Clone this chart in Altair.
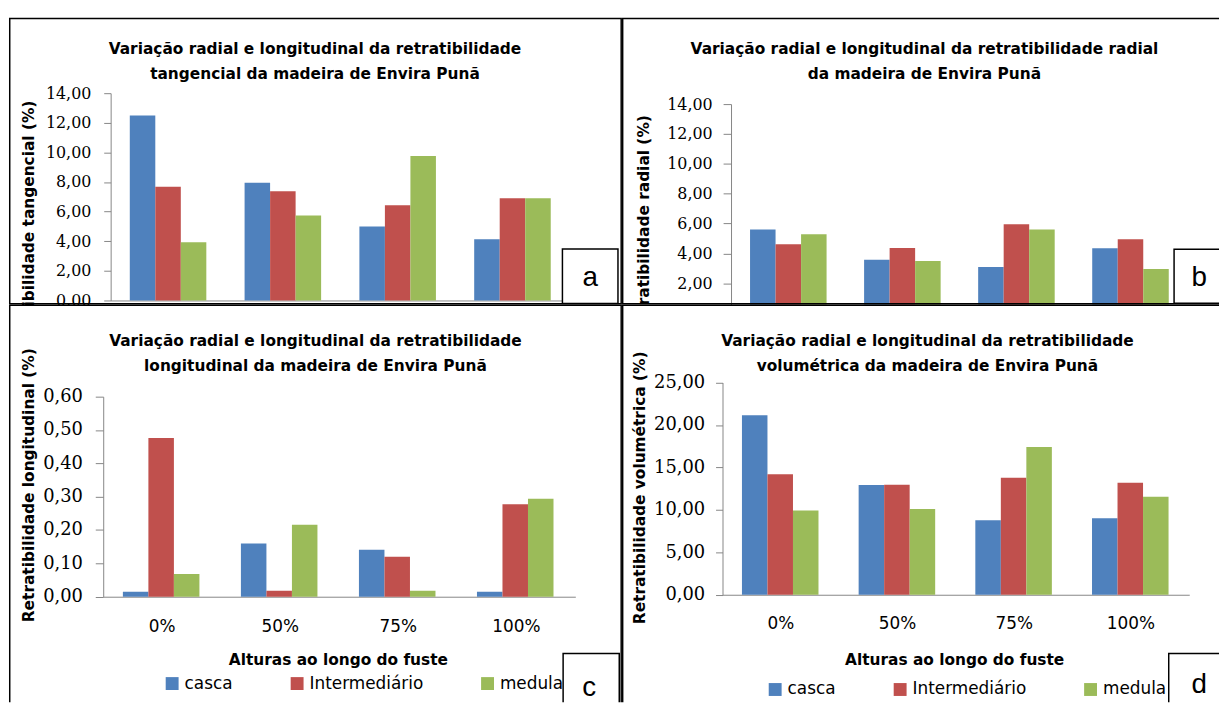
import altair as alt
import pandas as pd

# ---------------- data ----------------
heights = ["0%", "50%", "75%", "100%"]
series = ["casca", "Intermediário", "medula"]
colors = ["#4F81BD", "#C0504D", "#9BBB59"]

tang_casca = [12.50, 7.95, 5.00, 4.13]
tang_inter = [7.68, 7.37, 6.43, 6.90]
tang_medula = [3.93, 5.74, 9.76, 6.90]

rad_casca = [5.61, 3.57, 3.09, 4.35]
rad_inter = [4.61, 4.37, 5.96, 4.95]
rad_medula = [5.28, 3.49, 5.61, 2.95]

long_casca = [0.015, 0.160, 0.141, 0.015]
long_inter = [0.476, 0.018, 0.120, 0.277]
long_medula = [0.068, 0.216, 0.018, 0.294]

vol_casca = [21.14, 12.93, 8.76, 9.00]
vol_inter = [14.18, 12.96, 13.79, 13.20]
vol_medula = [9.93, 10.09, 17.41, 11.53]

title_a = ["Variação radial e longitudinal da retratibilidade",
           "tangencial da madeira de Envira Punã"]
title_b = ["Variação radial e longitudinal da retratibilidade radial",
           "da madeira de Envira Punã"]
title_c = ["Variação radial e longitudinal da retratibilidade",
           "longitudinal da madeira de Envira Punã"]
title_d = ["Variação radial  e longitudinal da retratibilidade",
           "volumétrica da madeira de Envira Punã"]

ytitle_a = "Retratibilidade tangencial (%)"
ytitle_b = "Retratibilidade radial (%)"
ytitle_c = "Retratibilidade longitudinal (%)"
ytitle_d = "Retratibilidade volumétrica (%)"
xtitle = "Alturas ao longo do fuste"

ticks_a = [0, 2, 4, 6, 8, 10, 12, 14]
ticks_c = [0, 0.1, 0.2, 0.3, 0.4, 0.5, 0.6]
ticks_d = [0, 5, 10, 15, 20, 25]


def long_df(casca, inter, medula):
    rows = []
    for s, vals in zip(series, [casca, inter, medula]):
        for h, v in zip(heights, vals):
            rows.append({"altura": h, "serie": s, "valor": v})
    return pd.DataFrame(rows)


GREY = "#868686"
TFONT = "DejaVu Sans"
TSIZE = 15.5
one = pd.DataFrame({"k": [0]})
LABEL_EXPR = "replace(format(datum.value, '.2f'), '.', ',')"


def panel(df, p):
    w, h = p["w"], p["h"]
    if p["xlabels"]:
        xaxis = alt.Axis(title=xtitle, labelAngle=0, ticks=False, tickSize=0,
                         domainColor=GREY, grid=False,
                         labelFont="DejaVu Sans", labelFontSize=17, labelColor="black",
                         labelPadding=p["xlabpad"], labelBaseline="middle",
                         titleFont=TFONT, titleFontSize=TSIZE, titleFontWeight="bold",
                         titleColor="black", titleX=p["xtx"], titleY=p["xty"],
                         titleBaseline="middle", titleAlign="center", titleAngle=0,
                         offset=p["xoff"])
    else:
        xaxis = alt.Axis(title=None, labels=False, ticks=False, domainColor=GREY,
                         grid=False, offset=p["xoff"])
    yaxis = alt.Axis(values=p["yticks"], labelExpr=LABEL_EXPR, offset=p["yoff"],
                     grid=False, domainColor=GREY, tickColor=GREY, tickSize=p["ytick"],
                     labelPadding=p["ylabpad"], labelFont="DejaVu Serif",
                     labelFontSize=p["ylabfs"], labelColor="black",
                     title=p["ytitle"], titleFont=TFONT, titleFontSize=TSIZE,
                     titleFontWeight="bold", titleColor="black", titleAngle=270,
                     titleAlign="right", titleBaseline="middle",
                     titleX=p["ytx"], titleY=p["yty"])
    if p["legend"]:
        legend = alt.Legend(title=None, orient="none", direction="horizontal",
                            legendX=p["legx"], legendY=p["legy"], symbolType="square",
                            symbolSize=169, symbolStrokeWidth=0, labelFont="DejaVu Sans",
                            labelFontSize=17, labelColor="black", columnPadding=56,
                            labelOffset=4, padding=0)
    else:
        legend = None

    bars = alt.Chart(df).mark_bar(clip=True).encode(
        x=alt.X("altura:N", sort=heights,
                scale=alt.Scale(domain=heights, range=p["xr"],
                                paddingInner=1 / 3, paddingOuter=1 / 6),
                axis=xaxis),
        xOffset=alt.XOffset("serie:N", sort=series,
                            scale=alt.Scale(domain=series, paddingInner=0, paddingOuter=0)),
        y=alt.Y("valor:Q", scale=alt.Scale(domain=p["ydom"], range=p["yr"], nice=False),
                axis=yaxis),
        color=alt.Color("serie:N", sort=series,
                        scale=alt.Scale(domain=series, range=colors), legend=legend),
    )
    title = alt.Chart(one).mark_text(
        align="center", baseline="alphabetic", font=TFONT, fontSize=TSIZE,
        fontWeight="bold", lineHeight=p["lh"], color="black"
    ).encode(x=alt.value(p["tx"]), y=alt.value(p["ty"]), text=alt.value(p["title"]))
    box = alt.Chart(one).mark_rect(fill="white", stroke="black", strokeWidth=1.5,
                                   clip=True).encode(
        x=alt.value(p["box"][0]), x2=alt.value(p["box"][1]),
        y=alt.value(p["box"][2]), y2=alt.value(p["box"][3]))
    letter = alt.Chart(one).mark_text(
        font="Liberation Sans", fontSize=28, align="center", baseline="middle",
        color="black"
    ).encode(x=alt.value(p["lx"]), y=alt.value(p["ly"]), text=alt.value(p["letter"]))
    frame = alt.Chart(one).mark_rect(filled=False, stroke="black", strokeWidth=3,
                                     clip=True).encode(
        x=alt.value(0), x2=alt.value(p["fx2"]), y=alt.value(0), y2=alt.value(p["fy2"]))
    return alt.layer(bars, title, box, letter, frame).properties(width=w, height=h)


WL, WR = 618, 602
HT, HB = 289, 401

pa = panel(long_df(tang_casca, tang_inter, tang_medula), dict(
    w=WL, h=HT, xr=[102.5, 565.5], yr=[285, 76], ydom=[0, 14], yticks=ticks_a,
    yoff=-102.5, ytick=7, ylabpad=13, ylabfs=16, xoff=-4, xlabels=False,
    ytitle=ytitle_a, ytx=-82.5, yty=83, legend=False,
    title=title_a, tx=308.5, ty=36.5, lh=25.5,
    box=[558, 614, 233, 288], lx=586, ly=262, letter="a", fx2=WL, fy2=HT))

pb = panel(long_df(rad_casca, rad_inter, rad_medula), dict(
    w=WR, h=HT, xr=[110, 570], yr=[297.8, 87], ydom=[0, 14], yticks=ticks_a,
    yoff=-110, ytick=8, ylabpad=11, ylabfs=16, xoff=8.8, xlabels=False,
    ytitle=ytitle_b, ytx=-88.5, yty=97.7, legend=False,
    title=title_b, tx=305, ty=36.5, lh=25.5,
    box=[556.7, WR + 10, 233.3, 287.7], lx=582, ly=262.7, letter="b",
    fx2=WR + 10, fy2=HT))

pc = panel(long_df(long_casca, long_inter, long_medula), dict(
    w=WL, h=HB, xr=[95, 571], yr=[294.7, 93], ydom=[0, 0.6], yticks=ticks_c,
    yoff=-95, ytick=8, ylabpad=13, ylabfs=18, xoff=294.7 - HB, xlabels=True,
    xlabpad=30, xtx=331.6, xty=63.3,
    ytitle=ytitle_c, ytx=-75.5, yty=43.7, legend=True, legx=156, legy=373.5,
    title=title_c, tx=309, ty=42.2, lh=25,
    box=[558.7, 615.3, 352, HB + 10], lx=585, ly=387, letter="c",
    fx2=WL, fy2=HB + 10))

pd_ = panel(long_df(vol_casca, vol_inter, vol_medula), dict(
    w=WR, h=HB, xr=[101.4, 572], yr=[292.7, 78.7], ydom=[0, 25], yticks=ticks_d,
    yoff=-101.4, ytick=7, ylabpad=11, ylabfs=18, xoff=292.7 - HB, xlabels=True,
    xlabpad=29.5, xtx=335, xty=65,
    ytitle=ytitle_d, ytx=-83.4, yty=47, legend=True, legx=146, legy=379.5,
    title=title_d, tx=308, ty=42.2, lh=25,
    box=[551.3, WR + 10, 352, HB + 10], lx=582, ly=383.7, letter="d",
    fx2=WR + 10, fy2=HB + 10))

chart = alt.concat(pa, pb, pc, pd_, columns=2, spacing=0, bounds="flush").resolve_legend(
    color="independent"
).properties(
    padding={"left": 0, "top": 6, "right": 0, "bottom": 0}
).configure_view(stroke="transparent", fill="white")

chart.save("out.html", embed_options={"renderer": "svg", "actions": False})
